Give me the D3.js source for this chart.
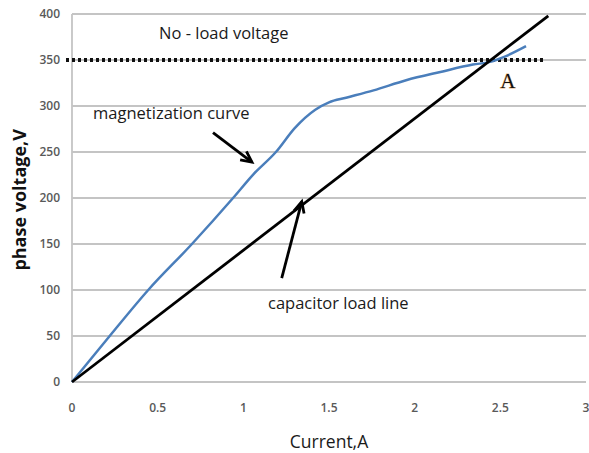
<!DOCTYPE html>
<html>
<head>
<meta charset="utf-8">
<script src="https://cdn.jsdelivr.net/npm/d3@7"></script>
<style>
  body { margin: 0; background: #fff; }
  svg { display: block; }
  .tick-label { font-family: "Open Sans", sans-serif; font-size: 12px; font-weight: 600; fill: #595959; }
  .note { font-family: "Open Sans", sans-serif; font-size: 16.5px; fill: #1a1a1a; }
</style>
</head>
<body>
<svg id="chart" width="589" height="453"></svg>
<script>
// #region Data
const xTicks = [0, 0.5, 1, 1.5, 2, 2.5, 3];
const yTicks = [0, 50, 100, 150, 200, 250, 300, 350, 400];

// magnetization curve (current A, phase voltage V)
const magCurrent = [0, 0.22, 0.445, 0.7, 0.94, 1.06, 1.19, 1.3, 1.42, 1.5, 1.6, 1.76, 1.95, 2.15, 2.34, 2.44, 2.53, 2.65];
const magVoltage = [0, 50, 100, 150, 200, 226, 250, 276, 296, 304, 309, 317, 328, 337, 345, 348, 354, 365];

// capacitor load line
const loadCurrent = [0, 2.78];
const loadVoltage = [0, 398];

// no-load voltage level
const noLoadVoltage = 350;
const noLoadSpan = [-0.035, 2.76];

// annotations in data units
const notes = [
  { text: "No - load voltage", x: 0.508, y: 373 },
  { text: "magnetization curve", x: 0.123, y: 286 },
  { text: "capacitor load line", x: 1.144, y: 79 },
];
const arrows = [
  { from: [0.823, 271], to: [1.05, 239] },
  { from: [1.224, 113], to: [1.341, 196] },
];
const pointA = { text: "A", x: 2.5, y: 320 };
// #endregion

const svg = d3.select("#chart");
const margin = { top: 14, right: 3, bottom: 71, left: 72 };
const width = +svg.attr("width");
const height = +svg.attr("height");
const innerWidth = width - margin.left - margin.right;
const innerHeight = height - margin.top - margin.bottom;

const x = d3.scaleLinear().domain([0, 3]).range([0, innerWidth]);
const y = d3.scaleLinear().domain([0, 400]).range([innerHeight, 0]);

const g = svg.append("g").attr("transform", `translate(${margin.left},${margin.top})`);

// gridlines
g.append("g")
  .selectAll("line")
  .data(yTicks)
  .enter()
  .append("line")
  .attr("x1", 0)
  .attr("x2", innerWidth)
  .attr("y1", (d) => y(d))
  .attr("y2", (d) => y(d))
  .attr("stroke", "#c4c4c4")
  .attr("stroke-width", 1.8);

// y axis line
g.append("line")
  .attr("x1", 0).attr("x2", 0)
  .attr("y1", 0).attr("y2", innerHeight)
  .attr("stroke", "#c4c4c4")
  .attr("stroke-width", 1.8);

// tick labels
g.append("g")
  .selectAll("text")
  .data(yTicks)
  .enter()
  .append("text")
  .attr("class", "tick-label")
  .attr("x", -12)
  .attr("y", (d) => y(d))
  .attr("dy", "0.35em")
  .attr("text-anchor", "end")
  .text((d) => d);

g.append("g")
  .selectAll("text")
  .data(xTicks)
  .enter()
  .append("text")
  .attr("class", "tick-label")
  .attr("x", (d) => x(d))
  .attr("y", innerHeight + 30)
  .attr("text-anchor", "middle")
  .text((d) => d);

// axis titles
g.append("text")
  .attr("x", innerWidth / 2)
  .attr("y", innerHeight + 66)
  .attr("text-anchor", "middle")
  .style("font-family", "Open Sans, sans-serif")
  .style("font-size", "17.5px")
  .style("fill", "#1a1a1a")
  .text("Current,A");

g.append("text")
  .attr("transform", "rotate(-90)")
  .attr("x", -(y(198)))
  .attr("y", -46)
  .attr("text-anchor", "middle")
  .style("font-family", "Open Sans, sans-serif")
  .style("font-size", "18px")
  .style("font-weight", "bold")
  .style("fill", "#111")
  .text("phase voltage,V");

// no-load voltage dotted line
g.append("line")
  .attr("x1", x(noLoadSpan[0]))
  .attr("x2", x(noLoadSpan[1]))
  .attr("y1", y(noLoadVoltage))
  .attr("y2", y(noLoadVoltage))
  .attr("stroke", "#111")
  .attr("stroke-width", 4)
  .attr("stroke-dasharray", "3,3");

// magnetization curve
const magData = magCurrent.map((c, i) => [c, magVoltage[i]]);
const line = d3.line().x((d) => x(d[0])).y((d) => y(d[1])).curve(d3.curveMonotoneX);
g.append("path")
  .datum(magData)
  .attr("d", line)
  .attr("fill", "none")
  .attr("stroke", "#4a7ebb")
  .attr("stroke-width", 2.5);

// capacitor load line
const loadData = loadCurrent.map((c, i) => [c, loadVoltage[i]]);
g.append("path")
  .datum(loadData)
  .attr("d", d3.line().x((d) => x(d[0])).y((d) => y(d[1])))
  .attr("fill", "none")
  .attr("stroke", "#000")
  .attr("stroke-width", 2.8);

// annotations
g.selectAll(".note")
  .data(notes)
  .enter()
  .append("text")
  .attr("class", "note")
  .attr("x", (d) => x(d.x))
  .attr("y", (d) => y(d.y))
  .text((d) => d.text);

g.append("text")
  .attr("x", x(pointA.x))
  .attr("y", y(pointA.y))
  .style("font-family", "Liberation Serif, serif")
  .style("font-size", "21px")
  .style("fill", "#111")
  .style("paint-order", "stroke")
  .style("stroke", "#e8b27a")
  .style("stroke-width", 0.8)
  .text(pointA.text);

// arrows: shaft plus open arrowhead
arrows.forEach((a) => {
  const x1 = x(a.from[0]), y1 = y(a.from[1]);
  const x2 = x(a.to[0]), y2 = y(a.to[1]);
  const ang = Math.atan2(y2 - y1, x2 - x1);
  const len = 12, spread = 0.45;
  const head = [ang + Math.PI - spread, ang + Math.PI + spread].map((t) => [
    x2 + len * Math.cos(t),
    y2 + len * Math.sin(t),
  ]);
  g.append("line")
    .attr("x1", x1).attr("y1", y1)
    .attr("x2", x2).attr("y2", y2)
    .attr("stroke", "#000")
    .attr("stroke-width", 2.8);
  g.append("path")
    .attr("d", `M${head[0][0]},${head[0][1]} L${x2},${y2} L${head[1][0]},${head[1][1]}`)
    .attr("fill", "none")
    .attr("stroke", "#000")
    .attr("stroke-width", 2.8)
    .attr("stroke-linejoin", "miter");
});
</script>
</body>
</html>
